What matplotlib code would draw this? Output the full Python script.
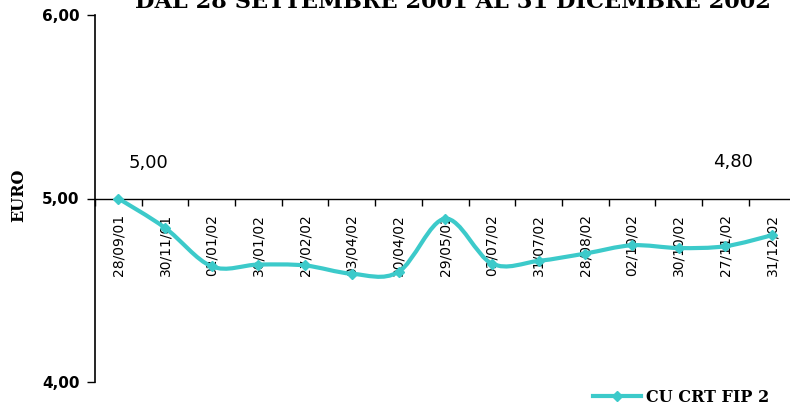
import numpy as np
import matplotlib
matplotlib.use("Agg")
import matplotlib.pyplot as plt
from matplotlib.path import Path
from matplotlib.patches import PathPatch
from matplotlib.lines import Line2D
from matplotlib.ticker import FuncFormatter

# dati
dates = ["28/09/01", "30/11/01", "02/01/02", "30/01/02", "27/02/02", "03/04/02",
         "30/04/02", "29/05/02", "03/07/02", "31/07/02", "28/08/02", "02/10/02",
         "30/10/02", "27/11/02", "31/12/02"]
values = [5.00, 4.84, 4.63, 4.64, 4.635, 4.59, 4.60, 4.89, 4.645, 4.66,
          4.70, 4.745, 4.73, 4.74, 4.80]
series_name = "CU CRT FIP 2"
title = "DAL 28 SETTEMBRE 2001 AL 31 DICEMBRE 2002"
line_color = "#3ccaca"

fig = plt.figure(figsize=(7.9, 4.07), dpi=100)
ax = fig.add_axes([95 / 790, 1 - 382 / 407, 700.4 / 790, 367 / 407])

x = np.arange(len(values))
y = np.array(values)

# linea smussata (bezier come Excel)
verts = [(x[0], y[0])]
codes = [Path.MOVETO]
n = len(x)
for i in range(n - 1):
    p0 = np.array([x[max(i - 1, 0)], y[max(i - 1, 0)]])
    p1 = np.array([x[i], y[i]])
    p2 = np.array([x[i + 1], y[i + 1]])
    p3 = np.array([x[min(i + 2, n - 1)], y[min(i + 2, n - 1)]])
    c1 = p1 + (p2 - p0) / 6
    c2 = p2 - (p3 - p1) / 6
    verts += [tuple(c1), tuple(c2), tuple(p2)]
    codes += [Path.CURVE4] * 3
ax.add_patch(PathPatch(Path(verts, codes), fill=False, edgecolor=line_color,
                       lw=3, capstyle="round", joinstyle="round", zorder=3))
ax.plot(x, y, ls="none", marker="D", ms=5, color=line_color, zorder=4)

ax.set_xlim(-0.5, len(values) - 0.5)
ax.set_ylim(4, 6)

for s in ["top", "right"]:
    ax.spines[s].set_visible(False)
ax.spines["bottom"].set_position(("data", 5.0))
ax.spines["left"].set_linewidth(1.2)
ax.spines["bottom"].set_linewidth(1.0)

ax.set_yticks([4, 5, 6])
ax.yaxis.set_major_formatter(FuncFormatter(lambda v, p: f"{v:.2f}".replace(".", ",")))
ax.tick_params(axis="y", length=6, width=1, pad=5, labelsize=11)
for lab in ax.get_yticklabels():
    lab.set_fontweight("bold")

ax.set_xticks(x)
ax.set_xticklabels(dates, rotation=90, fontsize=10)
ax.set_xticks(np.arange(-0.5, len(values), 1), minor=True)
ax.tick_params(axis="x", which="major", length=0, pad=11)
ax.tick_params(axis="x", which="minor", length=5, width=1)

ax.set_ylabel("EURO", fontfamily="DejaVu Serif", fontweight="bold", fontsize=11.5)
ax.yaxis.set_label_coords(-0.097, 0.51)

# etichette dati
ax.annotate("5,00", (x[0], y[0]), xytext=(30, 31), textcoords="offset pixels",
            ha="center", va="baseline", fontsize=13)
ax.annotate("4,80", (x[-1], y[-1]), xytext=(-39, 68), textcoords="offset pixels",
            ha="center", va="baseline", fontsize=13)

fig.text(453 / 790, 1 - 8 / 407, title, ha="center", va="baseline",
         fontfamily="DejaVu Serif", fontweight="bold", fontsize=16.2)

handle = Line2D([], [], color=line_color, lw=3, marker="D", ms=5)
fig.legend([handle], [series_name], loc="center left",
           bbox_to_anchor=(579 / 790, 1 - 397 / 407), frameon=False,
           handlelength=3, handletextpad=0.3,
           prop={"family": "DejaVu Serif", "weight": "bold", "size": 11.5})

fig.savefig("out.png", dpi=100)
